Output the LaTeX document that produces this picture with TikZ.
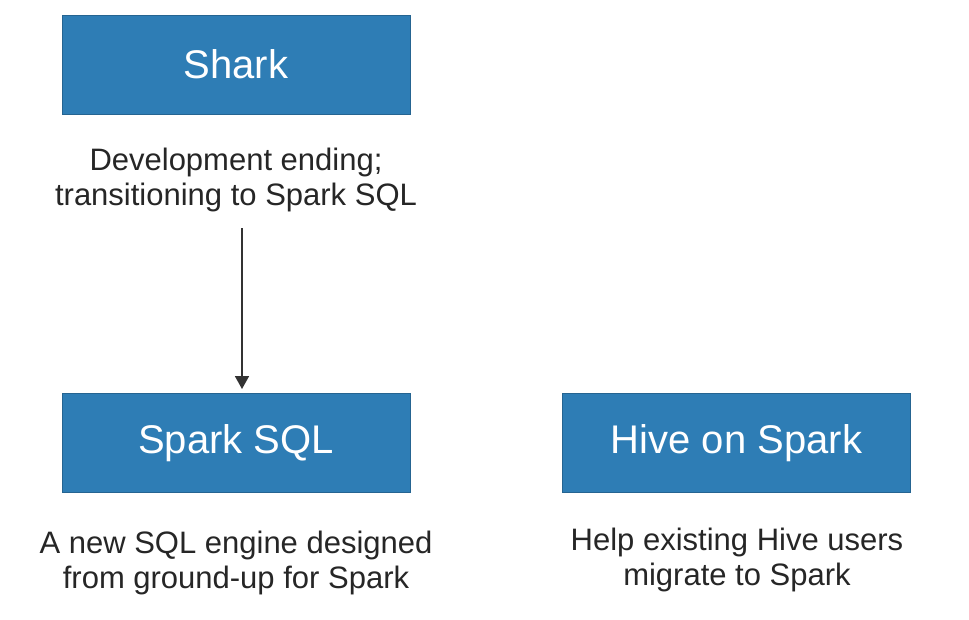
\documentclass[tikz,border=0pt]{standalone}
\usepackage{fontspec}
\setmainfont{Liberation Sans}
\usetikzlibrary{arrows.meta}
\definecolor{boxblue}{RGB}{46,125,181}
\begin{document}
\begin{tikzpicture}[x=1pt,y=-1pt,
  bluebox/.style={fill=boxblue, draw=boxblue!80!black, line width=0.6pt, minimum width=348pt, minimum height=99pt, inner sep=0pt, text=white, font=\fontsize{40}{40}\selectfont},
  desc/.style={align=center, font=\fontsize{31}{35}\selectfont, text=black!85}]
\useasboundingbox (0,0) rectangle (969,619);
\fill[white] (0,0) rectangle (969,619);
\node[bluebox] (shark) at (236,64.5) {Shark};
\node[bluebox] (sql) at (236,443) {Spark SQL};
\node[bluebox] (hive) at (736.5,443) {Hive on Spark};
\node[desc] (d1) at (236,180) {Development ending;\\transitioning to Spark SQL};
\node[desc] (d2) at (236,563) {A new SQL engine designed\\from ground-up for Spark};
\node[desc] (d3) at (737,560) {Help existing Hive users\\migrate to Spark};
\coordinate (astart) at (242,228);
\coordinate (aend) at (242,389);
\draw[line width=1.8pt, black!80, -{Triangle[width=14pt,length=13pt]}] (astart) -- (aend);
\end{tikzpicture}
\end{document}
